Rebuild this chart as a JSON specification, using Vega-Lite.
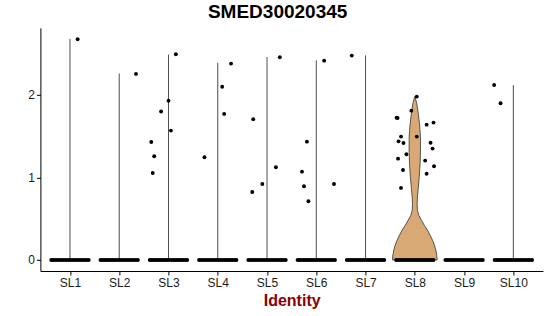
{
  "$schema": "https://vega.github.io/schema/vega-lite/v6.json",
  "width": 502.5,
  "height": 243.2,
  "autosize": {"type": "none"},
  "padding": {"left": 40.4, "top": 27.8, "right": 7.1, "bottom": 45},
  "background": "white",
  "title": {
    "text": "SMED30020345",
    "font": "Liberation Sans",
    "fontSize": 19,
    "fontWeight": "bold",
    "color": "#000000",
    "anchor": "middle",
    "dx": -14,
    "offset": 6
  },
  "config": {
    "view": {"stroke": null},
    "axis": {
      "labelFont": "Liberation Sans",
      "labelFontSize": 12,
      "labelColor": "#1a1a1a",
      "domainColor": "#000000",
      "domainWidth": 1,
      "tickColor": "#000000",
      "tickWidth": 1,
      "tickSize": 4,
      "grid": false
    }
  },
  "datasets": {
    "rules": [
      {"g": "SL1", "lo": 0, "m": 2.68},
      {"g": "SL2", "lo": 0, "m": 2.26},
      {"g": "SL3", "lo": 0, "m": 2.49},
      {"g": "SL4", "lo": 0, "m": 2.39},
      {"g": "SL5", "lo": 0, "m": 2.46},
      {"g": "SL6", "lo": 0, "m": 2.42},
      {"g": "SL7", "lo": 0, "m": 2.48},
      {"g": "SL10", "lo": 0, "m": 2.12}
    ],
    "violin": [
      {"g": "SL8", "k": 1, "v": 0, "w": 0.455},
      {"g": "SL8", "k": 2, "v": 0.06, "w": 0.445},
      {"g": "SL8", "k": 3, "v": 0.12, "w": 0.426},
      {"g": "SL8", "k": 4, "v": 0.18, "w": 0.398},
      {"g": "SL8", "k": 5, "v": 0.24, "w": 0.359},
      {"g": "SL8", "k": 6, "v": 0.30, "w": 0.311},
      {"g": "SL8", "k": 7, "v": 0.36, "w": 0.258},
      {"g": "SL8", "k": 8, "v": 0.42, "w": 0.193},
      {"g": "SL8", "k": 9, "v": 0.48, "w": 0.136},
      {"g": "SL8", "k": 10, "v": 0.54, "w": 0.081},
      {"g": "SL8", "k": 11, "v": 0.60, "w": 0.053},
      {"g": "SL8", "k": 12, "v": 0.68, "w": 0.047},
      {"g": "SL8", "k": 13, "v": 0.76, "w": 0.053},
      {"g": "SL8", "k": 14, "v": 0.85, "w": 0.067},
      {"g": "SL8", "k": 15, "v": 1.00, "w": 0.089},
      {"g": "SL8", "k": 16, "v": 1.17, "w": 0.108},
      {"g": "SL8", "k": 17, "v": 1.33, "w": 0.116},
      {"g": "SL8", "k": 18, "v": 1.50, "w": 0.114},
      {"g": "SL8", "k": 19, "v": 1.65, "w": 0.095},
      {"g": "SL8", "k": 20, "v": 1.78, "w": 0.069},
      {"g": "SL8", "k": 21, "v": 1.90, "w": 0.039},
      {"g": "SL8", "k": 22, "v": 1.98, "w": 0},
      {"g": "SL8", "k": 23, "v": 1.90, "w": -0.039},
      {"g": "SL8", "k": 24, "v": 1.78, "w": -0.069},
      {"g": "SL8", "k": 25, "v": 1.65, "w": -0.095},
      {"g": "SL8", "k": 26, "v": 1.50, "w": -0.114},
      {"g": "SL8", "k": 27, "v": 1.33, "w": -0.116},
      {"g": "SL8", "k": 28, "v": 1.17, "w": -0.108},
      {"g": "SL8", "k": 29, "v": 1.00, "w": -0.089},
      {"g": "SL8", "k": 30, "v": 0.85, "w": -0.067},
      {"g": "SL8", "k": 31, "v": 0.76, "w": -0.053},
      {"g": "SL8", "k": 32, "v": 0.68, "w": -0.047},
      {"g": "SL8", "k": 33, "v": 0.60, "w": -0.053},
      {"g": "SL8", "k": 34, "v": 0.54, "w": -0.081},
      {"g": "SL8", "k": 35, "v": 0.48, "w": -0.136},
      {"g": "SL8", "k": 36, "v": 0.42, "w": -0.193},
      {"g": "SL8", "k": 37, "v": 0.36, "w": -0.258},
      {"g": "SL8", "k": 38, "v": 0.30, "w": -0.311},
      {"g": "SL8", "k": 39, "v": 0.24, "w": -0.359},
      {"g": "SL8", "k": 40, "v": 0.18, "w": -0.398},
      {"g": "SL8", "k": 41, "v": 0.12, "w": -0.426},
      {"g": "SL8", "k": 42, "v": 0.06, "w": -0.445},
      {"g": "SL8", "k": 43, "v": 0, "w": -0.455},
      {"g": "SL8", "k": 44, "v": 0, "w": 0.455}
    ],
    "pts": [
      {"g":"SL1","v":0,"j":-0.38},{"g":"SL1","v":0,"j":-0.34},{"g":"SL1","v":0,"j":-0.30},{"g":"SL1","v":0,"j":-0.26},{"g":"SL1","v":0,"j":-0.22},{"g":"SL1","v":0,"j":-0.18},{"g":"SL1","v":0,"j":-0.14},{"g":"SL1","v":0,"j":-0.10},{"g":"SL1","v":0,"j":-0.06},{"g":"SL1","v":0,"j":-0.02},{"g":"SL1","v":0,"j":0.02},{"g":"SL1","v":0,"j":0.06},{"g":"SL1","v":0,"j":0.10},{"g":"SL1","v":0,"j":0.14},{"g":"SL1","v":0,"j":0.18},{"g":"SL1","v":0,"j":0.22},{"g":"SL1","v":0,"j":0.26},{"g":"SL1","v":0,"j":0.30},{"g":"SL1","v":0,"j":0.34},{"g":"SL1","v":0,"j":0.38},
      {"g":"SL2","v":0,"j":-0.38},{"g":"SL2","v":0,"j":-0.34},{"g":"SL2","v":0,"j":-0.30},{"g":"SL2","v":0,"j":-0.26},{"g":"SL2","v":0,"j":-0.22},{"g":"SL2","v":0,"j":-0.18},{"g":"SL2","v":0,"j":-0.14},{"g":"SL2","v":0,"j":-0.10},{"g":"SL2","v":0,"j":-0.06},{"g":"SL2","v":0,"j":-0.02},{"g":"SL2","v":0,"j":0.02},{"g":"SL2","v":0,"j":0.06},{"g":"SL2","v":0,"j":0.10},{"g":"SL2","v":0,"j":0.14},{"g":"SL2","v":0,"j":0.18},{"g":"SL2","v":0,"j":0.22},{"g":"SL2","v":0,"j":0.26},{"g":"SL2","v":0,"j":0.30},{"g":"SL2","v":0,"j":0.34},{"g":"SL2","v":0,"j":0.38},
      {"g":"SL3","v":0,"j":-0.38},{"g":"SL3","v":0,"j":-0.34},{"g":"SL3","v":0,"j":-0.30},{"g":"SL3","v":0,"j":-0.26},{"g":"SL3","v":0,"j":-0.22},{"g":"SL3","v":0,"j":-0.18},{"g":"SL3","v":0,"j":-0.14},{"g":"SL3","v":0,"j":-0.10},{"g":"SL3","v":0,"j":-0.06},{"g":"SL3","v":0,"j":-0.02},{"g":"SL3","v":0,"j":0.02},{"g":"SL3","v":0,"j":0.06},{"g":"SL3","v":0,"j":0.10},{"g":"SL3","v":0,"j":0.14},{"g":"SL3","v":0,"j":0.18},{"g":"SL3","v":0,"j":0.22},{"g":"SL3","v":0,"j":0.26},{"g":"SL3","v":0,"j":0.30},{"g":"SL3","v":0,"j":0.34},{"g":"SL3","v":0,"j":0.38},
      {"g":"SL4","v":0,"j":-0.38},{"g":"SL4","v":0,"j":-0.34},{"g":"SL4","v":0,"j":-0.30},{"g":"SL4","v":0,"j":-0.26},{"g":"SL4","v":0,"j":-0.22},{"g":"SL4","v":0,"j":-0.18},{"g":"SL4","v":0,"j":-0.14},{"g":"SL4","v":0,"j":-0.10},{"g":"SL4","v":0,"j":-0.06},{"g":"SL4","v":0,"j":-0.02},{"g":"SL4","v":0,"j":0.02},{"g":"SL4","v":0,"j":0.06},{"g":"SL4","v":0,"j":0.10},{"g":"SL4","v":0,"j":0.14},{"g":"SL4","v":0,"j":0.18},{"g":"SL4","v":0,"j":0.22},{"g":"SL4","v":0,"j":0.26},{"g":"SL4","v":0,"j":0.30},{"g":"SL4","v":0,"j":0.34},{"g":"SL4","v":0,"j":0.38},
      {"g":"SL5","v":0,"j":-0.38},{"g":"SL5","v":0,"j":-0.34},{"g":"SL5","v":0,"j":-0.30},{"g":"SL5","v":0,"j":-0.26},{"g":"SL5","v":0,"j":-0.22},{"g":"SL5","v":0,"j":-0.18},{"g":"SL5","v":0,"j":-0.14},{"g":"SL5","v":0,"j":-0.10},{"g":"SL5","v":0,"j":-0.06},{"g":"SL5","v":0,"j":-0.02},{"g":"SL5","v":0,"j":0.02},{"g":"SL5","v":0,"j":0.06},{"g":"SL5","v":0,"j":0.10},{"g":"SL5","v":0,"j":0.14},{"g":"SL5","v":0,"j":0.18},{"g":"SL5","v":0,"j":0.22},{"g":"SL5","v":0,"j":0.26},{"g":"SL5","v":0,"j":0.30},{"g":"SL5","v":0,"j":0.34},{"g":"SL5","v":0,"j":0.38},
      {"g":"SL6","v":0,"j":-0.38},{"g":"SL6","v":0,"j":-0.34},{"g":"SL6","v":0,"j":-0.30},{"g":"SL6","v":0,"j":-0.26},{"g":"SL6","v":0,"j":-0.22},{"g":"SL6","v":0,"j":-0.18},{"g":"SL6","v":0,"j":-0.14},{"g":"SL6","v":0,"j":-0.10},{"g":"SL6","v":0,"j":-0.06},{"g":"SL6","v":0,"j":-0.02},{"g":"SL6","v":0,"j":0.02},{"g":"SL6","v":0,"j":0.06},{"g":"SL6","v":0,"j":0.10},{"g":"SL6","v":0,"j":0.14},{"g":"SL6","v":0,"j":0.18},{"g":"SL6","v":0,"j":0.22},{"g":"SL6","v":0,"j":0.26},{"g":"SL6","v":0,"j":0.30},{"g":"SL6","v":0,"j":0.34},{"g":"SL6","v":0,"j":0.38},
      {"g":"SL7","v":0,"j":-0.38},{"g":"SL7","v":0,"j":-0.34},{"g":"SL7","v":0,"j":-0.30},{"g":"SL7","v":0,"j":-0.26},{"g":"SL7","v":0,"j":-0.22},{"g":"SL7","v":0,"j":-0.18},{"g":"SL7","v":0,"j":-0.14},{"g":"SL7","v":0,"j":-0.10},{"g":"SL7","v":0,"j":-0.06},{"g":"SL7","v":0,"j":-0.02},{"g":"SL7","v":0,"j":0.02},{"g":"SL7","v":0,"j":0.06},{"g":"SL7","v":0,"j":0.10},{"g":"SL7","v":0,"j":0.14},{"g":"SL7","v":0,"j":0.18},{"g":"SL7","v":0,"j":0.22},{"g":"SL7","v":0,"j":0.26},{"g":"SL7","v":0,"j":0.30},{"g":"SL7","v":0,"j":0.34},{"g":"SL7","v":0,"j":0.38},
      {"g":"SL8","v":0,"j":-0.38},{"g":"SL8","v":0,"j":-0.34},{"g":"SL8","v":0,"j":-0.30},{"g":"SL8","v":0,"j":-0.26},{"g":"SL8","v":0,"j":-0.22},{"g":"SL8","v":0,"j":-0.18},{"g":"SL8","v":0,"j":-0.14},{"g":"SL8","v":0,"j":-0.10},{"g":"SL8","v":0,"j":-0.06},{"g":"SL8","v":0,"j":-0.02},{"g":"SL8","v":0,"j":0.02},{"g":"SL8","v":0,"j":0.06},{"g":"SL8","v":0,"j":0.10},{"g":"SL8","v":0,"j":0.14},{"g":"SL8","v":0,"j":0.18},{"g":"SL8","v":0,"j":0.22},{"g":"SL8","v":0,"j":0.26},{"g":"SL8","v":0,"j":0.30},{"g":"SL8","v":0,"j":0.34},{"g":"SL8","v":0,"j":0.38},
      {"g":"SL9","v":0,"j":-0.38},{"g":"SL9","v":0,"j":-0.34},{"g":"SL9","v":0,"j":-0.30},{"g":"SL9","v":0,"j":-0.26},{"g":"SL9","v":0,"j":-0.22},{"g":"SL9","v":0,"j":-0.18},{"g":"SL9","v":0,"j":-0.14},{"g":"SL9","v":0,"j":-0.10},{"g":"SL9","v":0,"j":-0.06},{"g":"SL9","v":0,"j":-0.02},{"g":"SL9","v":0,"j":0.02},{"g":"SL9","v":0,"j":0.06},{"g":"SL9","v":0,"j":0.10},{"g":"SL9","v":0,"j":0.14},{"g":"SL9","v":0,"j":0.18},{"g":"SL9","v":0,"j":0.22},{"g":"SL9","v":0,"j":0.26},{"g":"SL9","v":0,"j":0.30},{"g":"SL9","v":0,"j":0.34},{"g":"SL9","v":0,"j":0.38},
      {"g":"SL10","v":0,"j":-0.38},{"g":"SL10","v":0,"j":-0.34},{"g":"SL10","v":0,"j":-0.30},{"g":"SL10","v":0,"j":-0.26},{"g":"SL10","v":0,"j":-0.22},{"g":"SL10","v":0,"j":-0.18},{"g":"SL10","v":0,"j":-0.14},{"g":"SL10","v":0,"j":-0.10},{"g":"SL10","v":0,"j":-0.06},{"g":"SL10","v":0,"j":-0.02},{"g":"SL10","v":0,"j":0.02},{"g":"SL10","v":0,"j":0.06},{"g":"SL10","v":0,"j":0.10},{"g":"SL10","v":0,"j":0.14},{"g":"SL10","v":0,"j":0.18},{"g":"SL10","v":0,"j":0.22},{"g":"SL10","v":0,"j":0.26},{"g":"SL10","v":0,"j":0.30},{"g":"SL10","v":0,"j":0.34},{"g":"SL10","v":0,"j":0.38},
      {"g":"SL1","v":2.675,"j":0.156},
      {"g":"SL2","v":2.255,"j":0.34},
      {"g":"SL3","v":1.43,"j":-0.35},{"g":"SL3","v":1.257,"j":-0.29},{"g":"SL3","v":1.054,"j":-0.32},{"g":"SL3","v":2.493,"j":0.15},{"g":"SL3","v":1.93,"j":0.0},{"g":"SL3","v":1.80,"j":-0.15},{"g":"SL3","v":1.568,"j":0.05},
      {"g":"SL4","v":1.245,"j":-0.27},{"g":"SL4","v":2.38,"j":0.27},{"g":"SL4","v":2.10,"j":0.09},{"g":"SL4","v":1.77,"j":0.13},
      {"g":"SL5","v":1.705,"j":-0.28},{"g":"SL5","v":0.92,"j":-0.095},{"g":"SL5","v":0.824,"j":-0.30},{"g":"SL5","v":1.124,"j":0.18},{"g":"SL5","v":2.457,"j":0.26},
      {"g":"SL6","v":2.416,"j":0.16},{"g":"SL6","v":1.434,"j":-0.19},{"g":"SL6","v":1.07,"j":-0.29},{"g":"SL6","v":0.893,"j":-0.25},{"g":"SL6","v":0.711,"j":-0.16},{"g":"SL6","v":0.921,"j":0.36},
      {"g":"SL7","v":2.477,"j":-0.28},
      {"g":"SL8","v":1.98,"j":0.04},{"g":"SL8","v":1.81,"j":-0.07},{"g":"SL8","v":1.725,"j":-0.37},{"g":"SL8","v":1.72,"j":-0.35},{"g":"SL8","v":1.665,"j":0.38},{"g":"SL8","v":1.64,"j":0.24},{"g":"SL8","v":1.495,"j":-0.28},{"g":"SL8","v":1.495,"j":0.04},{"g":"SL8","v":1.438,"j":-0.33},{"g":"SL8","v":1.418,"j":-0.23},{"g":"SL8","v":1.42,"j":0.32},{"g":"SL8","v":1.35,"j":0.36},{"g":"SL8","v":1.281,"j":-0.17},{"g":"SL8","v":1.228,"j":-0.34},{"g":"SL8","v":1.204,"j":0.21},{"g":"SL8","v":1.09,"j":-0.24},{"g":"SL8","v":1.136,"j":0.39},{"g":"SL8","v":1.045,"j":0.24},{"g":"SL8","v":0.873,"j":-0.28},
      {"g":"SL10","v":2.12,"j":-0.39},{"g":"SL10","v":1.90,"j":-0.26}
    ]
  },
  "layer": [
    {
      "data": {"name": "rules"},
      "mark": {"type": "rule", "stroke": "#4d4d4d", "strokeWidth": 1},
      "encoding": {
        "x": {
          "field": "g",
          "type": "nominal",
          "scale": {"type": "point", "padding": 0.6, "domain": ["SL1","SL2","SL3","SL4","SL5","SL6","SL7","SL8","SL9","SL10"]},
          "axis": {
            "title": "Identity",
            "titleFont": "Liberation Sans",
            "titleFontSize": 16,
            "titleFontWeight": "bold",
            "titleColor": "#8B0000",
            "titlePadding": 4,
            "labelAngle": 0,
            "labelPadding": 2
          }
        },
        "y": {
          "field": "lo",
          "type": "quantitative",
          "scale": {"domain": [-0.134, 2.814], "nice": false, "zero": false},
          "axis": {"values": [0, 1, 2], "format": "d", "title": null, "labelPadding": 2}
        },
        "y2": {"field": "m"}
      }
    },
    {
      "data": {"name": "violin"},
      "mark": {"type": "line", "fill": "#D8A974", "stroke": "#333333", "strokeWidth": 0.8},
      "encoding": {
        "x": {"field": "g", "type": "nominal"},
        "y": {"field": "v", "type": "quantitative"},
        "xOffset": {"field": "w", "type": "quantitative", "scale": {"domain": [-0.5, 0.5], "range": [-24.63, 24.63]}},
        "order": {"field": "k", "type": "quantitative"}
      }
    },
    {
      "data": {"name": "pts"},
      "mark": {"type": "circle", "color": "#000000", "opacity": 1, "size": 15},
      "encoding": {
        "x": {"field": "g", "type": "nominal"},
        "y": {"field": "v", "type": "quantitative"},
        "xOffset": {"field": "j", "type": "quantitative", "scale": {"domain": [-0.5, 0.5], "range": [-24.63, 24.63]}}
      }
    }
  ]
}
